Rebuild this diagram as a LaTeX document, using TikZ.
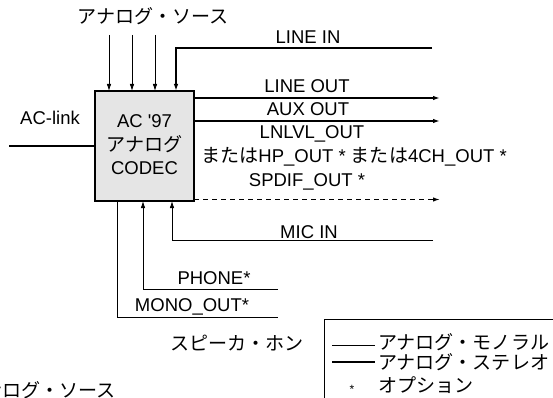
\documentclass[tikz,border=0pt]{standalone}
\usepackage{fontspec}
\setmainfont{Liberation Sans}
\newfontfamily\jp{Noto Sans CJK JP}[Scale=1.03]
\newcommand{\J}[1]{{\jp #1}}
\usetikzlibrary{arrows.meta}
\begin{document}
\begin{tikzpicture}[x=1pt,y=-1pt,
  every node/.style={inner sep=0pt,outer sep=0pt,font=\fontsize{18.5}{22}\selectfont},
  thin line/.style={line width=0.8pt},
  thick line/.style={line width=1.5pt},
  link line/.style={line width=2.6pt},
  arr/.style={-{Latex[length=7pt,width=4.5pt]}},
  lbl/.style={anchor=base}]
\useasboundingbox (0,0) rectangle (553,398);
% codec box
\node[draw,line width=1.4pt,fill=black!10,minimum width=99pt,minimum height=110pt,anchor=north west] (codec) at (95,91) {};
\node[align=center] (ctext) at (144.5,145) {AC \textquotesingle 97\\[2pt]\J{アナログ}\\[1pt]CODEC};
% top sources
\node (src) at (153,16) {\J{アナログ・ソース}};
\coordinate (s1) at (109,35);
\coordinate (s2) at (132,35);
\coordinate (s3) at (155,35);
\draw[thin line,arr] (s1) -- (s1 |- codec.north);
\draw[thin line,arr] (s2) -- (s2 |- codec.north);
\draw[thin line,arr] (s3) -- (s3 |- codec.north);
% LINE IN
\coordinate (linein) at (432,48);
\coordinate (lineinc) at (176,48);
\draw[thick line,arr] (linein) -- (lineinc) -- (lineinc |- codec.north);
\node (lineinl) at (308,37) {LINE IN};
% LINE OUT
\coordinate (lo1) at (194,98);
\coordinate (lo2) at (440,98);
\draw[thick line,arr] (lo1) -- (lo2);
\node (lol) at (307,86) {LINE OUT};
% AUX OUT
\coordinate (ao1) at (194,121);
\coordinate (ao2) at (440,121);
\draw[thick line,arr] (ao1) -- (ao2);
\node (aol) at (308,109) {AUX OUT};
% LNLVL
\node (lnl) at (312,134) {LNLVL\_OUT};
\node (hpl) at (354,157) {\J{または}HP\_OUT * \J{または}4CH\_OUT *};
\node (spl) at (307,182) {SPDIF\_OUT *};
\coordinate (sp1) at (194,199.5);
\coordinate (sp2) at (440,199.5);
\draw[line width=1.3pt,dash pattern=on 5pt off 4pt,arr] (sp1) -- (sp2);
% MIC IN
\coordinate (mic) at (433,240);
\coordinate (micc) at (172,240);
\draw[thin line,arr] (mic) -- (micc) -- (micc |- codec.south);
\node (micl) at (309,232) {MIC IN};
% PHONE
\coordinate (ph) at (278,289);
\coordinate (phc) at (143,289);
\draw[thin line,arr] (ph) -- (phc) -- (phc |- codec.south);
\node (phl) at (214,278) {PHONE*};
% MONO_OUT
\coordinate (mo) at (278,317);
\coordinate (moc) at (117,317);
\draw[thin line] (moc |- codec.south) -- (moc) -- (mo);
\node (mol) at (192,307) {MONO\_OUT*};
\node (spk) at (237,343) {\J{スピーカ・ホン}};
% bottom-left label
\node[anchor=east] (src2) at (116,390) {\J{アナログ・ソース}};
% AC-link
\node (acl) at (50,118) {AC-link};
\coordinate (ac) at (9,146);
\draw[link line] (ac) -- (ac -| codec.west);
% legend
\draw[line width=1pt] (324,420) -- (324,319) -- (570,319);
\coordinate (lg1a) at (332,345);
\coordinate (lg1b) at (375,345);
\coordinate (lg2a) at (332,362);
\coordinate (lg2b) at (375,362);
\draw[thin line] (lg1a) -- (lg1b);
\draw[thick line] (lg2a) -- (lg2b);
\node (lgs) at (352,389) {\fontsize{12}{12}\selectfont *};
\node[anchor=west] (lgt1) at (378,342) {\J{アナログ・モノラル}};
\node[anchor=west] (lgt2) at (378,362) {\J{アナログ・ステレオ}};
\node[anchor=west] (lgt3) at (378,385) {\J{オプション}};
\end{tikzpicture}
\end{document}
